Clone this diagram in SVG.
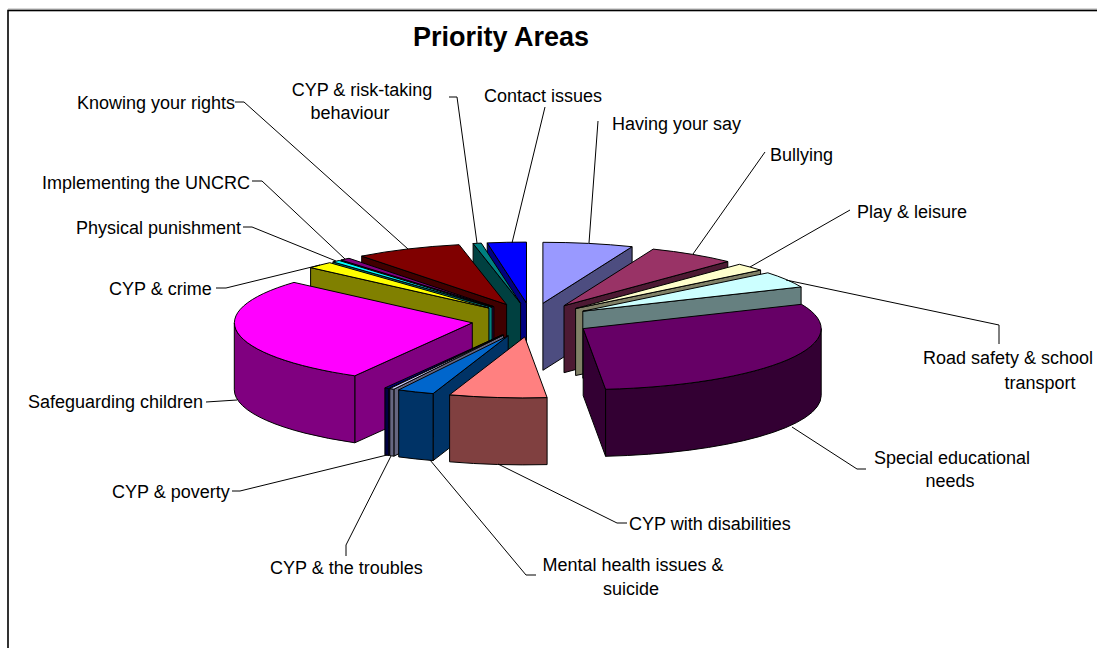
<svg xmlns="http://www.w3.org/2000/svg" width="1097" height="648" viewBox="0 0 1097 648">
<style>
.f{stroke:#000;stroke-width:1;stroke-linejoin:round}
.lbl{font-family:"Liberation Sans",Arial,sans-serif;font-size:18px;fill:#000}
.ttl{font-family:"Liberation Sans",Arial,sans-serif;font-size:27px;font-weight:bold;fill:#000}
.ld{fill:none;stroke:#000;stroke-width:1}
</style>
<rect x="0" y="0" width="1097" height="648" fill="#fff"/>
<line x1="8" y1="9" x2="1097" y2="9" stroke="#b0b0b0" stroke-width="1"/>
<rect x="8" y="10.5" width="1100" height="700" fill="#fff" stroke="#000" stroke-width="1.6"/>
<text class="ttl" x="501" y="46" text-anchor="middle">Priority Areas</text>

<g id="contact-issues">
<path class="f" fill="#000080" d="M526.5,303.1 L487.2,242.9 L487.2,309.9 L526.5,370.1 Z"/>
<path class="f" fill="#0000FF" d="M526.5,303.1 L487.2,242.9 A238,61 0 0 1 526.5,242.1 Z"/>
</g>
<g id="risk-taking">
<path class="f" fill="#004040" d="M520.6,303.3 L473.1,243.5 L473.1,310.5 L520.6,370.3 Z"/>
<path class="f" fill="#008080" d="M520.6,303.3 L473.1,243.5 A238,61 0 0 1 481.3,243.1 Z"/>
</g>
<g id="having-your-say">
<path class="f" fill="#4D4D80" d="M542.9,303.3 L632.1,246.7 L632.1,313.7 L542.9,370.3 Z"/>
<path class="f" fill="#9999FF" d="M542.9,303.3 L542.9,242.3 A238,61 0 0 1 632.1,246.7 Z"/>
</g>
<g id="knowing-your-rights">
<path class="f" fill="#400000" d="M506.6,304.5 L361.7,256.1 L361.7,323.1 L506.6,371.5 Z"/>
<path class="f" fill="#800000" d="M506.6,304.5 L361.7,256.1 A238,61 0 0 1 459.1,244.7 Z"/>
</g>
<g id="bullying">
<path class="f" fill="#4D1A33" d="M564,305.7 L727.8,261.5 L727.8,328.5 L564,372.7 Z"/>
<path class="f" fill="#993366" d="M564,305.7 L653.2,249.1 A238,61 0 0 1 727.8,261.5 Z"/>
</g>
<g id="implementing-uncrc">
<path class="f" fill="#400040" d="M493.9,306.7 L340.9,260 L340.9,327 L493.9,373.7 Z"/>
<path class="f" fill="#800080" d="M493.9,306.7 L340.9,260 A238,61 0 0 1 349,258.3 Z"/>
</g>
<g id="physical-punishment">
<path class="f" fill="#008080" d="M492.1,307.2 L332.9,261.9 L332.9,328.9 L492.1,374.2 Z"/>
<path class="f" fill="#00FFFF" d="M492.1,307.2 L332.9,261.9 A238,61 0 0 1 339.1,260.5 Z"/>
</g>
<g id="cyp-crime">
<path class="f" fill="#808000" d="M488.9,308 L310.6,267.6 L310.6,334.6 L488.9,375 Z"/>
<path class="f" fill="#FFFF00" d="M488.9,308 L310.6,267.6 A238,61 0 0 1 329.7,262.7 Z"/>
</g>
<g id="play-leisure">
<path class="f" fill="#808066" d="M575.6,308.5 L760.6,270.1 L760.6,337.1 L575.6,375.5 Z"/>
<path class="f" fill="#FFFFCC" d="M575.6,308.5 L739.4,264.3 A238,61 0 0 1 760.6,270.1 Z"/>
</g>
<g id="road-safety">
<path class="f" fill="#668080" d="M582.8,311.2 L801.1,286.9 L801.1,353.9 L582.8,378.2 Z"/>
<path class="f" fill="#CCFFFF" d="M582.8,311.2 L767.8,272.8 A238,61 0 0 1 801.1,286.9 Z"/>
</g>
<g id="safeguarding-children">
<path class="f" fill="#800080" d="M472.3,322.8 L354.8,375.8 L354.8,442.8 L472.3,389.8 Z"/>
<path class="f" fill="#800080" d="M354.8,375.8 A238,61 0 0 1 234.3,322.8 L234.3,389.8 A238,61 0 0 0 354.8,442.8 Z"/>
<path class="f" fill="#FF00FF" d="M472.3,322.8 L354.8,375.8 A238,61 0 0 1 294,282.4 Z"/>
</g>
<g id="special-educational-needs">
<path class="f" fill="#330033" d="M583.2,328.6 L605.6,389.3 L605.6,456.3 L583.2,395.6 Z"/>
<path class="f" fill="#330033" d="M821.2,328.6 A238,61 0 0 1 605.6,389.3 L605.6,456.3 A238,61 0 0 0 821.2,395.6 Z"/>
<path class="f" fill="#660066" d="M583.2,328.6 L801.5,304.3 A238,61 0 0 1 605.6,389.3 Z"/>
</g>
<g id="cyp-poverty">
<path class="f" fill="#000040" d="M502.4,334.9 L388.8,388.5 L388.8,455.5 L502.4,401.9 Z"/>
<path class="f" fill="#000040" d="M388.8,388.5 A238,61 0 0 1 384.9,387.9 L384.9,454.9 A238,61 0 0 0 388.8,455.5 Z"/>
<path class="f" fill="#000080" d="M502.4,334.9 L388.8,388.5 A238,61 0 0 1 384.9,387.9 Z"/>
</g>
<g id="cyp-troubles">
<path class="f" fill="#666680" d="M503.4,335 L393.9,389.2 L393.9,456.2 L503.4,402 Z"/>
<path class="f" fill="#666680" d="M393.9,389.2 A238,61 0 0 1 389.8,388.6 L389.8,455.6 A238,61 0 0 0 393.9,456.2 Z"/>
<path class="f" fill="#CCCCFF" d="M503.4,335 L393.9,389.2 A238,61 0 0 1 389.8,388.6 Z"/>
</g>
<g id="mental-health">
<path class="f" fill="#003366" d="M508.2,335.7 L433.1,393.6 L433.1,460.6 L508.2,402.7 Z"/>
<path class="f" fill="#003366" d="M433.1,393.6 A238,61 0 0 1 398.7,389.9 L398.7,456.9 A238,61 0 0 0 433.1,460.6 Z"/>
<path class="f" fill="#0066CC" d="M508.2,335.7 L433.1,393.6 A238,61 0 0 1 398.7,389.9 Z"/>
</g>
<g id="cyp-disabilities">
<path class="f" fill="#804040" d="M547.1,397.6 A238,61 0 0 1 449.6,394.8 L449.6,461.8 A238,61 0 0 0 547.1,464.6 Z"/>
<path class="f" fill="#FF8080" d="M524.7,336.9 L547.1,397.6 A238,61 0 0 1 449.6,394.8 Z"/>
</g>

<g id="connectors">
<polyline class="ld" points="235,102 244,102 408,249"/>
<polyline class="ld" points="449,97 457,97 477,243"/>
<polyline class="ld" points="545,107 512,243"/>
<polyline class="ld" points="598,121 589,243"/>
<polyline class="ld" points="765,152 693,254"/>
<polyline class="ld" points="850,210 750,267"/>
<polyline class="ld" points="786,280 999,325 999,344"/>
<polyline class="ld" points="792,427 857,469 866,469"/>
<polyline class="ld" points="498,464 617,523 627,523"/>
<polyline class="ld" points="430,460 526,575 536,575"/>
<polyline class="ld" points="391,456 346,545 346,556"/>
<polyline class="ld" points="387,455 240,491 232,491"/>
<polyline class="ld" points="237,400 206,402"/>
<polyline class="ld" points="320,265 226,288 216,288"/>
<polyline class="ld" points="336,261 252,227 243,227"/>
<polyline class="ld" points="345,259 262,181 252,181"/>
</g>

<g id="labels">
<text class="lbl" x="77" y="109">Knowing your rights</text>
<text class="lbl" x="362" y="96" text-anchor="middle">CYP &amp; risk-taking</text>
<text class="lbl" x="350" y="119" text-anchor="middle">behaviour</text>
<text class="lbl" x="484" y="102">Contact issues</text>
<text class="lbl" x="612" y="130">Having your say</text>
<text class="lbl" x="770" y="161">Bullying</text>
<text class="lbl" x="857" y="218">Play &amp; leisure</text>
<text class="lbl" x="42" y="189">Implementing the UNCRC</text>
<text class="lbl" x="76" y="234">Physical punishment</text>
<text class="lbl" x="109" y="295">CYP &amp; crime</text>
<text class="lbl" x="1008" y="364" text-anchor="middle">Road safety &amp; school</text>
<text class="lbl" x="1040" y="389" text-anchor="middle">transport</text>
<text class="lbl" x="28" y="408">Safeguarding children</text>
<text class="lbl" x="952" y="464" text-anchor="middle">Special educational</text>
<text class="lbl" x="950" y="487" text-anchor="middle">needs</text>
<text class="lbl" x="112" y="498">CYP &amp; poverty</text>
<text class="lbl" x="629" y="530">CYP with disabilities</text>
<text class="lbl" x="633" y="571" text-anchor="middle">Mental health issues &amp;</text>
<text class="lbl" x="631" y="595" text-anchor="middle">suicide</text>
<text class="lbl" x="270" y="574">CYP &amp; the troubles</text>
</g>
</svg>
